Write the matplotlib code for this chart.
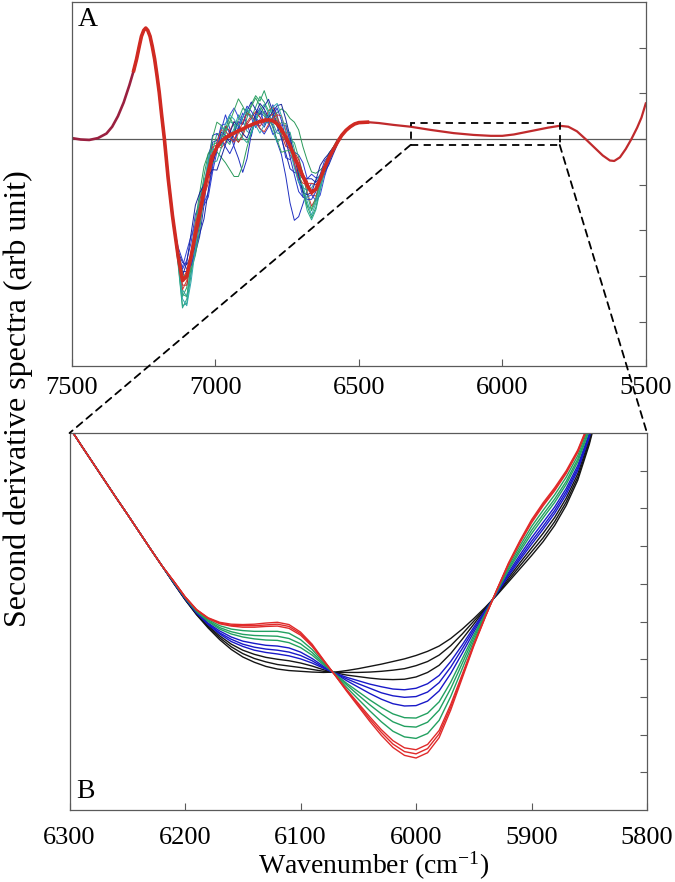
#Second derivative NIR spectra, full range (A) and zoom of the 6300-5800 band (B)

import numpy as np
import matplotlib
matplotlib.use('Agg')
from matplotlib import pyplot as plt
from matplotlib.patches import Rectangle, ConnectionPatch

plt.rcParams['font.family'] = ['Liberation Serif', 'DejaVu Serif']
plt.rcParams['mathtext.default'] = 'regular'

#Panel A: averaged spectrum (left part, noisy part, right part)
wn_pre = [7500, 7470, 7440, 7410, 7380, 7360, 7340, 7320, 7300, 7285, 7275, 7265, 7258,
          7250, 7243, 7236, 7228, 7220, 7212, 7204, 7196, 7188, 7178, 7165, 7150, 7145]
sd_pre = [0.02, -0.01, -0.02, 0.02, 0.12, 0.27, 0.50, 0.80, 1.18, 1.50, 1.75, 2.05, 2.25,
          2.38, 2.43, 2.38, 2.25, 2.02, 1.75, 1.40, 1.02, 0.55, 0.0, -0.85, -1.67, -1.90]

wn_mid = [7130, 7115, 7100, 7085, 7070, 7055, 7040, 7025, 7010, 6995, 6980, 6965, 6950, 6935,
          6920, 6905, 6890, 6875, 6860, 6845, 6830, 6815, 6800, 6785, 6770, 6755, 6740, 6725,
          6710, 6695, 6680, 6665, 6650, 6635, 6620, 6605, 6590, 6575, 6560, 6545]
sd_mid = [-2.57, -3.10, -3.00, -2.57, -2.10, -1.63, -1.15, -0.72, -0.37, -0.18, -0.05, 0.03, 0.08, 0.13,
          0.18, 0.22, 0.27, 0.31, 0.35, 0.38, 0.41, 0.42, 0.40, 0.33, 0.21, 0.04, -0.15, -0.38,
          -0.60, -0.82, -1.02, -1.17, -1.10, -0.88, -0.63, -0.42, -0.24, -0.07, 0.08, 0.19]

wn_post = [6530, 6515, 6500, 6470, 6430, 6380, 6320, 6250, 6170, 6100, 6040, 6000, 5960, 5920,
           5880, 5840, 5800, 5770, 5740, 5710, 5680, 5650, 5625, 5610, 5590, 5570, 5550, 5530,
           5515, 5500]
sd_post = [0.27, 0.33, 0.36, 0.37, 0.35, 0.31, 0.27, 0.20, 0.13, 0.09, 0.07, 0.07, 0.10, 0.15,
           0.20, 0.25, 0.29, 0.27, 0.17, 0.0, -0.18, -0.36, -0.47, -0.48, -0.40, -0.22, 0.0, 0.25,
           0.47, 0.78]

#individual spectra: deviation from the average over wn_mid
dev_colors = ['#2b3bd0', '#27a065', '#1f2fc0', '#2a9a5a', '#d03030', '#2aa0a8', '#3545d8',
              '#30a870', '#c02828', '#1a2aa8', '#2aa890', '#2535c8', '#d43a30', '#35a060',
              '#18249a', '#30a8b0']
dev_1 = [0.10, 0.25, 0.35, 0.30, 0.45, 0.20, -0.30, -0.55, -0.35, -0.10, 0.25, 0.50, 0.15, -0.20,
         0.10, 0.35, 0.05, -0.25, 0.15, 0.30, -0.10, 0.10, 0.35, 0.20, -0.15, -0.45, -0.30, 0.10,
         0.25, 0.30, 0.15, 0.40, 0.25, 0.05, -0.10, 0.10, 0.05, 0.00, 0.00, 0.00]
dev_2 = [-0.15, -0.55, -0.60, -0.40, -0.20, 0.10, 0.35, 0.40, 0.25, 0.10, -0.10, 0.20, 0.40, 0.15,
         -0.25, -0.10, 0.20, 0.45, 0.60, 0.45, 0.65, 0.35, 0.10, -0.05, 0.15, 0.30, 0.10, -0.20,
         -0.35, -0.30, -0.45, -0.55, -0.40, -0.20, -0.05, -0.10, 0.05, 0.05, 0.00, 0.00]
dev_3 = [0.05, 0.20, 0.10, -0.15, -0.40, -0.50, -0.30, 0.10, 0.30, 0.15, 0.05, 0.25, 0.05, -0.30,
         -0.60, -0.95, -0.70, -0.20, 0.10, 0.00, -0.15, 0.05, -0.10, -0.40, -0.55, -0.85, -1.25, -1.40,
         -1.10, -0.60, -0.10, 0.20, 0.10, -0.05, -0.15, -0.05, 0.00, 0.05, 0.00, 0.00]
dev_4 = [-0.10, -0.35, -0.25, 0.05, 0.30, 0.45, 0.55, 0.40, 0.15, -0.10, -0.35, -0.55, -0.75, -0.95,
         -1.00, -0.80, -0.45, -0.15, 0.05, 0.20, 0.10, -0.10, 0.05, 0.25, 0.45, 0.55, 0.60, 0.75,
         0.80, 0.65, 0.55, 0.45, 0.35, 0.20, 0.05, 0.10, 0.05, 0.00, 0.00, 0.00]
dev_5 = [0.00, 0.05, 0.10, 0.05, -0.10, -0.25, -0.10, 0.15, 0.20, 0.05, -0.15, -0.10, 0.10, 0.25,
         0.15, -0.05, 0.10, 0.20, 0.05, -0.10, 0.00, 0.20, 0.30, 0.15, 0.05, -0.10, -0.20, -0.10,
         0.05, 0.00, -0.15, -0.30, -0.20, -0.05, 0.05, 0.00, -0.05, 0.00, 0.00, 0.00]
dev_6 = [0.15, -0.20, -0.45, -0.35, -0.15, 0.05, 0.20, 0.05, -0.15, 0.05, 0.30, 0.15, -0.05, 0.10,
         0.35, 0.20, -0.10, -0.20, 0.05, 0.25, 0.15, -0.05, -0.25, -0.40, -0.20, 0.00, 0.15, 0.05,
         -0.15, -0.25, -0.10, 0.10, 0.20, 0.10, 0.00, -0.05, 0.00, 0.00, 0.00, 0.00]
dev_7 = [-0.05, 0.30, 0.55, 0.45, 0.20, -0.05, -0.25, -0.45, -0.25, 0.10, 0.35, 0.30, 0.45, 0.55,
         0.30, 0.10, 0.30, 0.15, -0.10, 0.05, 0.20, -0.05, -0.30, -0.15, 0.10, 0.25, 0.10, -0.15,
         -0.30, -0.45, -0.25, -0.05, -0.25, -0.35, -0.20, -0.10, -0.05, 0.00, 0.00, 0.00]
dev_8 = [0.05, -0.30, -0.45, -0.20, 0.05, 0.30, 0.20, -0.05, 0.10, 0.30, 0.15, -0.05, -0.20, 0.05,
         0.25, 0.45, 0.35, 0.15, 0.35, 0.55, 0.40, 0.20, 0.25, 0.10, -0.15, -0.05, 0.15, 0.30,
         0.20, 0.05, -0.20, -0.40, -0.25, -0.10, 0.05, 0.10, 0.05, 0.05, 0.00, 0.00]
dev_9 = [0.05, -0.10, -0.20, -0.05, 0.15, 0.30, 0.15, -0.05, -0.15, -0.05, 0.10, 0.25, 0.10, -0.10,
         -0.25, -0.15, 0.05, 0.15, 0.25, 0.10, -0.05, 0.05, 0.15, 0.05, -0.10, -0.20, -0.05, 0.10,
         0.15, 0.05, 0.10, -0.05, -0.15, -0.10, 0.00, 0.05, 0.00, 0.00, 0.00, 0.00]
dev_10 = [0.10, 0.40, 0.25, 0.00, -0.25, -0.45, -0.60, -0.40, -0.15, -0.05, 0.20, 0.05, -0.15, 0.00,
          0.20, 0.10, 0.35, 0.50, 0.30, 0.15, 0.30, 0.45, 0.20, -0.05, -0.20, -0.35, -0.50, -0.35,
          -0.15, -0.05, 0.15, 0.30, 0.15, 0.05, -0.10, -0.15, -0.10, -0.05, 0.00, 0.00]
dev_11 = [-0.20, -0.60, -0.50, -0.15, 0.15, 0.35, 0.25, 0.05, -0.15, -0.30, -0.15, 0.10, 0.30, 0.20,
          0.00, -0.20, -0.35, -0.15, 0.10, 0.25, 0.35, 0.15, -0.05, -0.20, -0.10, 0.10, 0.30, 0.15,
          -0.10, -0.35, -0.55, -0.60, -0.45, -0.25, -0.10, 0.00, 0.05, 0.00, 0.00, 0.00]
dev_12 = [0.20, 0.45, 0.15, -0.20, -0.35, -0.20, 0.05, 0.25, 0.45, 0.30, 0.05, -0.20, -0.40, -0.25,
          0.05, 0.25, 0.45, 0.30, 0.10, -0.15, -0.30, -0.15, 0.10, 0.35, 0.20, -0.05, -0.25, -0.40,
          -0.55, -0.45, -0.30, -0.15, -0.05, 0.10, 0.15, 0.05, 0.00, 0.00, 0.00, 0.00]
dev_13 = [-0.05, -0.20, -0.10, 0.10, 0.25, 0.10, -0.10, -0.25, -0.10, 0.10, 0.25, 0.15, -0.05, -0.20,
          -0.05, 0.15, 0.30, 0.20, 0.00, -0.15, -0.25, -0.10, 0.05, 0.20, 0.30, 0.15, 0.00, -0.15,
          -0.25, -0.15, 0.05, 0.20, 0.10, 0.00, -0.05, 0.00, 0.00, 0.00, 0.00, 0.00]
dev_14 = [0.10, 0.15, -0.05, -0.30, -0.45, -0.35, -0.10, 0.20, 0.40, 0.55, 0.35, 0.15, 0.30, 0.50,
          0.70, 0.50, 0.25, 0.40, 0.55, 0.35, 0.15, 0.05, -0.15, -0.35, -0.50, -0.30, -0.10, 0.05,
          -0.10, -0.30, -0.45, -0.35, -0.20, -0.05, 0.05, 0.05, 0.00, 0.00, 0.00, 0.00]
dev_15 = [-0.10, 0.10, 0.30, 0.50, 0.65, 0.45, 0.15, -0.10, -0.30, -0.50, -0.35, -0.15, 0.05, 0.25,
          0.10, -0.10, -0.25, -0.05, 0.20, 0.40, 0.25, 0.05, 0.20, 0.40, 0.55, 0.40, 0.20, 0.00,
          -0.20, -0.35, -0.20, 0.00, 0.20, 0.30, 0.20, 0.10, 0.05, 0.00, 0.00, 0.00]
dev_16 = [0.00, -0.40, -0.65, -0.55, -0.30, -0.10, 0.10, 0.30, 0.15, -0.05, 0.10, 0.30, 0.45, 0.30,
          0.10, 0.25, 0.40, 0.20, -0.05, -0.25, -0.10, 0.10, 0.30, 0.45, 0.30, 0.10, -0.10, -0.25,
          -0.35, -0.20, -0.35, -0.50, -0.30, -0.15, -0.05, 0.00, 0.00, 0.00, 0.00, 0.00]
devs = [dev_1, dev_2, dev_3, dev_4, dev_5, dev_6, dev_7, dev_8, dev_9, dev_10,
        dev_11, dev_12, dev_13, dev_14, dev_15, dev_16]

#zoom box in panel A
box_wn = [6320, 5800]
box_sd = [-0.13, 0.35]

#Panel B: shared steep left part, then 12 spectra
wn_b_left = [6300, 6290, 6280, 6270, 6260, 6250, 6240, 6230, 6220]
sd_b_left = [10.15, 9.68, 9.22, 8.76, 8.30, 7.85, 7.39, 6.93, 6.48]

wn_b = [6210, 6200, 6190, 6180, 6170, 6160, 6150, 6140, 6130, 6120, 6110, 6100, 6090, 6080,
        6070, 6060, 6050, 6040, 6030, 6020, 6010, 6000, 5990, 5980, 5970, 5960, 5950, 5940,
        5930, 5920, 5910, 5900, 5890, 5880, 5870, 5860, 5850, 5840]
b_black1 = [6.02, 5.58, 5.18, 4.83, 4.52, 4.26, 4.06, 3.92, 3.81, 3.74, 3.70, 3.68, 3.66, 3.65,
            3.66, 3.70, 3.75, 3.81, 3.87, 3.94, 4.01, 4.10, 4.21, 4.35, 4.55, 4.80, 5.08, 5.38,
            5.70, 6.05, 6.40, 6.75, 7.12, 7.55, 8.08, 8.75, 9.70, 10.90]
b_black2 = [6.03, 5.59, 5.19, 4.86, 4.57, 4.33, 4.15, 4.02, 3.93, 3.86, 3.82, 3.78, 3.73, 3.68,
            3.65, 3.65, 3.65, 3.66, 3.68, 3.71, 3.75, 3.83, 3.94, 4.11, 4.36, 4.67, 5.01, 5.35,
            5.72, 6.10, 6.48, 6.85, 7.22, 7.65, 8.17, 8.83, 9.76, 10.93]
b_black3 = [6.03, 5.60, 5.21, 4.89, 4.62, 4.40, 4.24, 4.13, 4.05, 4.00, 3.96, 3.90, 3.82, 3.72,
            3.64, 3.58, 3.54, 3.50, 3.47, 3.46, 3.47, 3.53, 3.65, 3.84, 4.15, 4.53, 4.93, 5.33,
            5.73, 6.16, 6.56, 6.95, 7.34, 7.76, 8.27, 8.92, 9.83, 10.96]
b_blue1 = [6.04, 5.61, 5.22, 4.92, 4.67, 4.47, 4.34, 4.24, 4.18, 4.14, 4.09, 4.01, 3.90, 3.76,
           3.63, 3.52, 3.43, 3.34, 3.27, 3.21, 3.19, 3.23, 3.35, 3.57, 3.94, 4.38, 4.85, 5.30,
           5.75, 6.21, 6.64, 7.05, 7.45, 7.87, 8.37, 9.01, 9.89, 11.00]
b_blue2 = [6.04, 5.61, 5.24, 4.94, 4.70, 4.53, 4.40, 4.32, 4.27, 4.24, 4.19, 4.10, 3.96, 3.78,
           3.62, 3.48, 3.35, 3.23, 3.11, 3.03, 2.99, 3.01, 3.13, 3.38, 3.79, 4.28, 4.79, 5.28,
           5.76, 6.25, 6.70, 7.13, 7.53, 7.95, 8.45, 9.07, 9.94, 11.02]
b_blue3 = [6.05, 5.62, 5.25, 4.96, 4.75, 4.59, 4.48, 4.42, 4.37, 4.35, 4.30, 4.19, 4.02, 3.81,
           3.62, 3.43, 3.26, 3.09, 2.94, 2.82, 2.76, 2.77, 2.89, 3.16, 3.62, 4.16, 4.72, 5.25,
           5.77, 6.30, 6.77, 7.22, 7.63, 8.04, 8.53, 9.14, 9.99, 11.05]
b_green1 = [6.06, 5.63, 5.26, 5.00, 4.80, 4.67, 4.59, 4.54, 4.51, 4.50, 4.44, 4.31, 4.11, 3.85,
            3.61, 3.36, 3.14, 2.92, 2.72, 2.55, 2.45, 2.44, 2.57, 2.87, 3.39, 4.01, 4.64, 5.22,
            5.79, 6.36, 6.86, 7.33, 7.75, 8.16, 8.64, 9.24, 10.07, 11.08]
b_green2 = [6.06, 5.64, 5.28, 5.02, 4.84, 4.73, 4.66, 4.63, 4.62, 4.61, 4.55, 4.41, 4.18, 3.88,
            3.60, 3.32, 3.05, 2.79, 2.55, 2.34, 2.22, 2.20, 2.33, 2.65, 3.22, 3.89, 4.57, 5.20,
            5.81, 6.40, 6.93, 7.42, 7.84, 8.25, 8.72, 9.31, 10.12, 11.11]
b_green3 = [6.07, 5.65, 5.29, 5.05, 4.89, 4.80, 4.76, 4.74, 4.74, 4.74, 4.69, 4.52, 4.26, 3.92,
            3.59, 3.25, 2.94, 2.63, 2.34, 2.09, 1.94, 1.90, 2.03, 2.38, 3.01, 3.75, 4.49, 5.17,
            5.82, 6.46, 7.01, 7.52, 7.95, 8.36, 8.83, 9.40, 10.19, 11.14]
b_red1 = [6.08, 5.65, 5.31, 5.08, 4.94, 4.88, 4.85, 4.85, 4.87, 4.88, 4.82, 4.64, 4.34, 3.95,
          3.58, 3.19, 2.83, 2.47, 2.13, 1.84, 1.65, 1.60, 1.74, 2.11, 2.80, 3.60, 4.41, 5.14,
          5.84, 6.51, 7.09, 7.62, 8.07, 8.47, 8.93, 9.49, 10.25, 11.18]
b_red2 = [6.08, 5.66, 5.31, 5.09, 4.96, 4.90, 4.89, 4.89, 4.91, 4.93, 4.87, 4.68, 4.37, 3.97,
          3.57, 3.17, 2.79, 2.41, 2.06, 1.75, 1.55, 1.49, 1.63, 2.02, 2.73, 3.55, 4.38, 5.13,
          5.84, 6.53, 7.12, 7.66, 8.11, 8.51, 8.96, 9.52, 10.28, 11.19]
b_red3 = [6.08, 5.66, 5.32, 5.10, 4.98, 4.93, 4.92, 4.93, 4.96, 4.98, 4.92, 4.72, 4.40, 3.98,
          3.57, 3.15, 2.75, 2.35, 1.98, 1.66, 1.45, 1.38, 1.52, 1.92, 2.65, 3.50, 4.35, 5.12,
          5.85, 6.55, 7.15, 7.70, 8.15, 8.55, 9.00, 9.55, 10.30, 11.20]
b_curves = [b_black1, b_black2, b_black3, b_blue1, b_blue2, b_blue3,
            b_green1, b_green2, b_green3, b_red1, b_red2, b_red3]
b_colors = ['#151515', '#151515', '#151515', '#1818c8', '#1818c8', '#1818c8',
            '#22a060', '#22a060', '#22a060', '#e02a2a', '#e02a2a', '#e02a2a']

frame_col = '#5a5a5a'
fs = 19

fig = plt.figure(figsize=(6.75, 8.82), dpi=100)
ax1 = fig.add_axes([0.1067, 0.585, 0.850, 0.4127])
ax2 = fig.add_axes([0.103, 0.0816, 0.8556, 0.4274])

#----- panel A
wn_all = wn_pre + wn_mid + wn_post
sd_all = sd_pre + sd_mid + sd_post
ax1.axhline(0, color=frame_col, lw=0.9, zorder=1)
ax1.plot(wn_pre[:10], sd_pre[:10], color='#9a2040', lw=1.9, zorder=2)
ax1.plot(wn_all[9:], sd_all[9:], color='#c02a2c', lw=1.6, zorder=2)
for d, c in zip(devs, dev_colors):
    yy = [sd_pre[-1]] + list(np.array(sd_mid) + np.array(d)) + [sd_post[0]]
    xx = [wn_pre[-1]] + wn_mid + [wn_post[0]]
    ax1.plot(xx, yy, color=c, lw=0.7, zorder=3)
ax1.plot(wn_pre[9:] + wn_mid + wn_post[:4], sd_pre[9:] + sd_mid + sd_post[:4],
         color='#d02a22', lw=2.6, zorder=4)

ax1.add_patch(Rectangle((box_wn[0], box_sd[0]), box_wn[1] - box_wn[0], box_sd[1] - box_sd[0],
                        fill=False, ls=(0, (4, 3)), lw=1.3, color='black', zorder=5))

ax1.set_xlim(7500, 5500)
ax1.set_ylim(-4.97, 3.0)
ax1.set_xticks([7500, 7000, 6500, 6000, 5500])
ax1.set_yticks([-4, -3, -2, -1, 0, 1, 2])
ax1.tick_params(axis='x', direction='in', length=5, color=frame_col, labelsize=fs, pad=8)
ax1.tick_params(axis='y', direction='in', length=5, color=frame_col,
                left=False, right=True, labelleft=False)
ax1.text(0.01, 0.985, 'A', transform=ax1.transAxes, fontsize=20, va='top', ha='left')

#----- panel B
for y, c in zip(b_curves, b_colors):
    ax2.plot(wn_b_left + wn_b, sd_b_left + y, color=c, lw=1.0)
ax2.set_xlim(6300, 5800)
ax2.set_ylim(0, 10)
ax2.set_xticks([6300, 6200, 6100, 6000, 5900, 5800])
ax2.set_yticks(range(1, 10))
ax2.tick_params(axis='x', direction='in', length=5, color=frame_col, labelsize=fs, pad=12)
ax2.tick_params(axis='y', direction='in', length=5, color=frame_col,
                left=False, right=True, labelleft=False)
ax2.text(0.012, 0.015, 'B', transform=ax2.transAxes, fontsize=20, va='bottom', ha='left')
ax2.set_xlabel('Wavenumber (cm$^{-1}$)', fontsize=20)
ax2.xaxis.set_label_coords(0.526, -0.105)

for ax in (ax1, ax2):
    for s in ax.spines.values():
        s.set_color(frame_col)
        s.set_linewidth(0.9)

#dashed lines from the box to panel B
for xa, xb in [(box_wn[0], 6300), (box_wn[1], 5800)]:
    con = ConnectionPatch(xyA=(xa, box_sd[0]), coordsA=ax1.transData,
                          xyB=(xb, 10), coordsB=ax2.transData,
                          ls=(0, (4, 3)), lw=1.3, color='black')
    fig.add_artist(con)

fig.text(0.027, 0.548, 'Second derivative spectra (arb unit)', rotation=90,
         fontsize=23, ha='center', va='center')

fig.savefig('out.png', dpi=100)
